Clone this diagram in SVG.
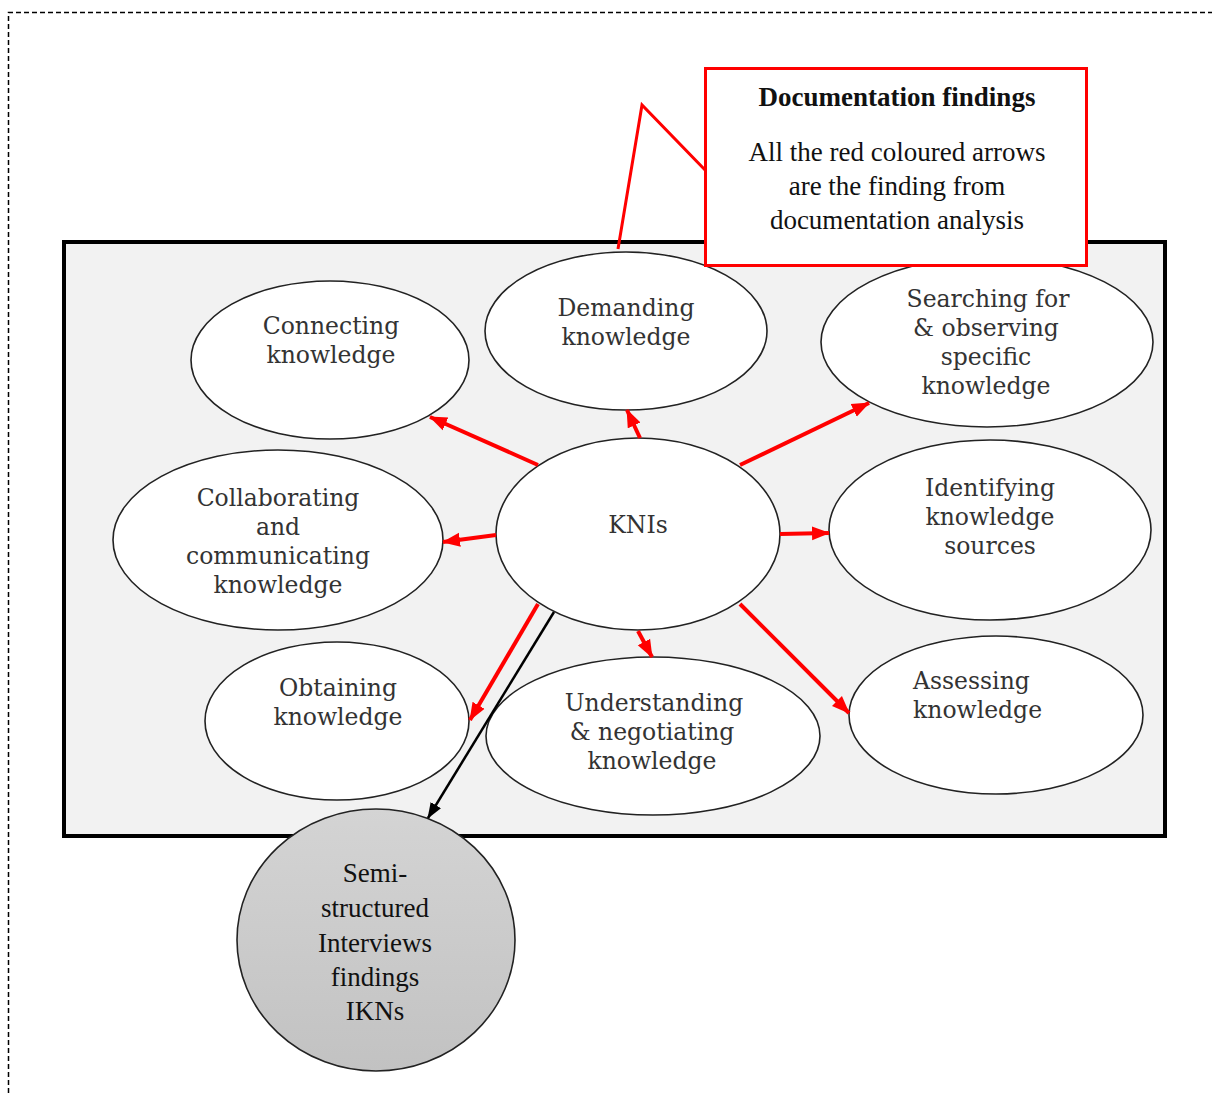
<svg xmlns="http://www.w3.org/2000/svg" width="1212" height="1093" viewBox="0 0 1212 1093">
<style>
.node{fill:#ffffff;stroke:#222222;stroke-width:1.6}
.lbl{font-family:"DejaVu Serif",serif;font-size:23.5px;fill:#333333;text-anchor:middle}
.red{stroke:#ff0000;stroke-width:4;fill:none;marker-end:url(#rh)}
.tnr{font-family:"Liberation Serif","Times New Roman",serif;font-size:27px;fill:#111111;text-anchor:middle}
</style>
<defs>
<marker id="rh" markerUnits="userSpaceOnUse" markerWidth="18" markerHeight="16" viewBox="0 0 18 16" refX="17" refY="8" orient="auto">
<path d="M0,1 L18,8 L0,15 Z" fill="#ff0000"/>
</marker>
<marker id="bh" markerUnits="userSpaceOnUse" markerWidth="16" markerHeight="14" viewBox="0 0 16 14" refX="15" refY="7" orient="auto">
<path d="M0,1 L16,7 L0,13 Z" fill="#000000"/>
</marker>
<linearGradient id="gray" x1="0" y1="0" x2="0" y2="1">
<stop offset="0" stop-color="#d4d4d4"/>
<stop offset="1" stop-color="#c2c2c2"/>
</linearGradient>
</defs>
<rect width="1212" height="1093" fill="#ffffff"/>
<path d="M8.5,1093 V12.5 H1212" fill="none" stroke="#000000" stroke-width="1.5" stroke-dasharray="5,3"/>
<rect id="frame" x="64" y="242" width="1101" height="594" fill="#f2f2f2" stroke="#000000" stroke-width="4"/>

<g id="connecting">
<ellipse class="node" cx="330" cy="360" rx="139" ry="79"/>
<text class="lbl" x="331" y="334">Connecting</text>
<text class="lbl" x="331" y="363">knowledge</text>
</g>
<g id="demanding">
<ellipse class="node" cx="626" cy="331" rx="141" ry="79"/>
<text class="lbl" x="626" y="316">Demanding</text>
<text class="lbl" x="626" y="345">knowledge</text>
</g>
<g id="searching">
<ellipse class="node" cx="987" cy="342" rx="166" ry="85"/>
<text class="lbl" x="988" y="307">Searching for</text>
<text class="lbl" x="986" y="336">&amp; observing</text>
<text class="lbl" x="986" y="365">specific</text>
<text class="lbl" x="986" y="394">knowledge</text>
</g>
<g id="identifying">
<ellipse class="node" cx="990" cy="530" rx="161" ry="90"/>
<text class="lbl" x="990" y="496">Identifying</text>
<text class="lbl" x="990" y="525">knowledge</text>
<text class="lbl" x="990" y="554">sources</text>
</g>
<g id="knis">
<ellipse class="node" cx="638" cy="534" rx="142" ry="96"/>
<text class="lbl" x="638" y="533">KNIs</text>
</g>
<g id="collaborating">
<ellipse class="node" cx="278" cy="540" rx="165" ry="90"/>
<text class="lbl" x="278" y="506">Collaborating</text>
<text class="lbl" x="278" y="535">and</text>
<text class="lbl" x="278" y="564">communicating</text>
<text class="lbl" x="278" y="593">knowledge</text>
</g>
<g id="obtaining">
<ellipse class="node" cx="337" cy="721" rx="132" ry="79"/>
<text class="lbl" x="338" y="696">Obtaining</text>
<text class="lbl" x="338" y="725">knowledge</text>
</g>
<g id="understanding">
<ellipse class="node" cx="653" cy="736" rx="167" ry="79"/>
<text class="lbl" x="654" y="711">Understanding</text>
<text class="lbl" x="652" y="740">&amp; negotiating</text>
<text class="lbl" x="652" y="769">knowledge</text>
</g>
<g id="assessing">
<ellipse class="node" cx="996" cy="715" rx="147" ry="79"/>
<text class="lbl" x="913" y="689" style="text-anchor:start">Assessing</text>
<text class="lbl" x="913" y="718" style="text-anchor:start">knowledge</text>
</g>

<g id="connectors">
<line class="red" x1="538" y1="465" x2="430" y2="417"/>
<line class="red" x1="640" y1="438" x2="627" y2="410"/>
<line class="red" x1="740" y1="465" x2="869" y2="403"/>
<line class="red" x1="496" y1="535" x2="443" y2="542"/>
<line class="red" x1="780" y1="534" x2="829" y2="533"/>
<line class="red" x1="638" y1="631" x2="652" y2="657"/>
<line class="red" x1="740" y1="604" x2="849" y2="713"/>
<line class="red" x1="538" y1="604" x2="470" y2="720"/>
</g>

<g id="interviews">
<ellipse cx="376" cy="940" rx="139" ry="131" fill="url(#gray)" stroke="#222222" stroke-width="1.6"/>
<text class="tnr" x="375" y="882">Semi-</text>
<text class="tnr" x="375" y="917">structured</text>
<text class="tnr" x="375" y="952">Interviews</text>
<text class="tnr" x="375" y="986">findings</text>
<text class="tnr" x="375" y="1020">IKNs</text>
</g>
<g id="black-connector">
<line x1="554" y1="612" x2="428" y2="818" stroke="#000000" stroke-width="2.5" marker-end="url(#bh)"/>
</g>

<g id="callout">
<polyline points="618,249 642,105 707,172" fill="none" stroke="#ff0000" stroke-width="3"/>
<rect x="705.5" y="68.5" width="381" height="197" fill="#ffffff" stroke="#ff0000" stroke-width="3"/>
<text class="tnr" x="897" y="106" style="font-weight:bold">Documentation findings</text>
<text class="tnr" x="897" y="161">All the red coloured arrows</text>
<text class="tnr" x="897" y="195">are the finding from</text>
<text class="tnr" x="897" y="229">documentation analysis</text>
</g>
</svg>
